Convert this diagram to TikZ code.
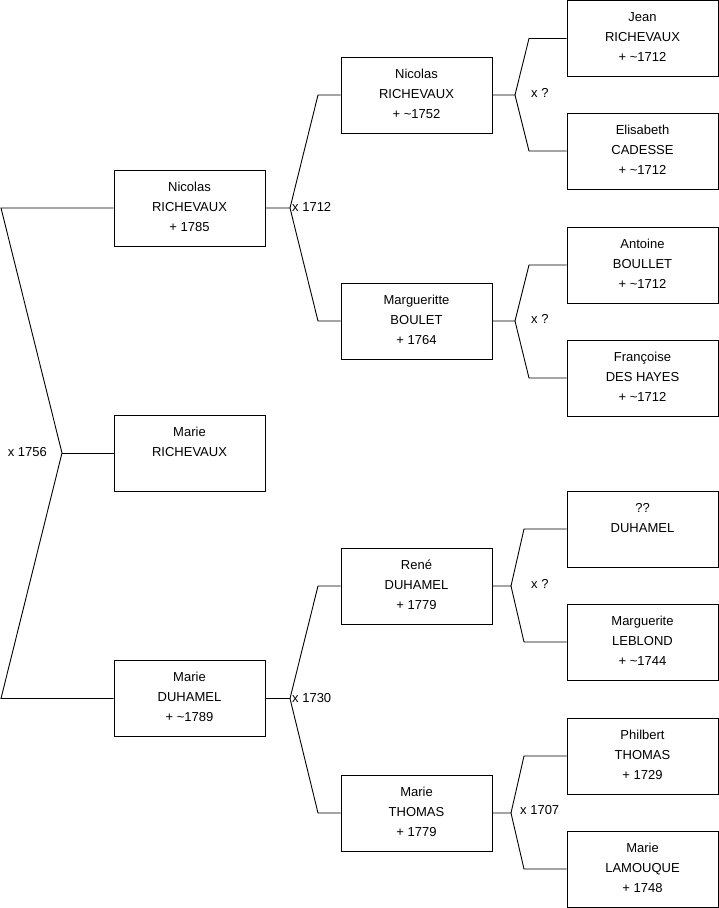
\documentclass[tikz,border=0pt]{standalone}
\usepackage{fontspec}
\setmainfont{Liberation Sans}
\begin{document}
\begin{tikzpicture}[x=1pt,y=-1pt,
  person/.style={draw=black,line width=0.9pt,rectangle,minimum width=151pt,minimum height=76pt,inner sep=0pt,align=center,font=\fontsize{13}{20}\selectfont},
  link/.style={draw=black,line width=0.9pt},
  lbl/.style={inner sep=0pt,font=\fontsize{13}{15}\selectfont}]
\useasboundingbox (0,0) rectangle (719,908);
\newcommand{\pstrut}{\rule[-7pt]{0pt}{20pt}}
\newcommand{\pp}[3]{\pstrut #1\\\pstrut #2\\\pstrut #3}
% column 1
\node[person] (a1) at (189.5,208) {\pp{Nicolas}{RICHEVAUX}{+ 1785}};
\node[person] (a2) at (189.5,453) {\pp{Marie}{RICHEVAUX}{}};
\node[person] (a3) at (189.5,698.5) {\pp{Marie}{DUHAMEL}{+ \textasciitilde 1789}};
% column 2
\node[person] (b1) at (416.5,95) {\pp{Nicolas}{RICHEVAUX}{+ \textasciitilde 1752}};
\node[person] (b2) at (416.5,321) {\pp{Margueritte}{BOULET}{+ 1764}};
\node[person] (b3) at (416.5,586) {\pp{René}{DUHAMEL}{+ 1779}};
\node[person] (b4) at (416.5,813) {\pp{Marie}{THOMAS}{+ 1779}};
% column 3
\node[person] (c1) at (642.5,38.5) {\pp{Jean}{RICHEVAUX}{+ \textasciitilde 1712}};
\node[person] (c2) at (642.5,151) {\pp{Elisabeth}{CADESSE}{+ \textasciitilde 1712}};
\node[person] (c3) at (642.5,265) {\pp{Antoine}{BOULLET}{+ \textasciitilde 1712}};
\node[person] (c4) at (642.5,378) {\pp{Françoise}{DES HAYES}{+ \textasciitilde 1712}};
\node[person] (c5) at (642.5,529) {\pp{??}{DUHAMEL}{}};
\node[person] (c6) at (642.5,642) {\pp{Marguerite}{LEBLOND}{+ \textasciitilde 1744}};
\node[person] (c7) at (642.5,756) {\pp{Philbert}{THOMAS}{+ 1729}};
\node[person] (c8) at (642.5,869) {\pp{Marie}{LAMOUQUE}{+ 1748}};
% left bracket
\coordinate (v0) at (62,453);
\coordinate (t0) at (1,208);
\coordinate (u0) at (1,698.5);
\draw[link] (a1.west) -- (t0) -- (v0) -- (u0) -- (a3.west);
\draw[link] (v0) -- (a2.west);
\node[lbl,anchor=east] (l0) at (47,452) {x 1756};
% a1 -> b1,b2
\coordinate (v1) at (290,208);
\draw[link] (a1.east) -- (v1) -- (318,95) -- (b1.west);
\draw[link] (v1) -- (318,321) -- (b2.west);
\node[lbl,anchor=west] (l1) at (292,207) {x 1712};
% a3 -> b3,b4
\coordinate (v2) at (290,698.5);
\draw[link] (a3.east) -- (v2) -- (318,586) -- (b3.west);
\draw[link] (v2) -- (318,813) -- (b4.west);
\node[lbl,anchor=west] (l2) at (292,698) {x 1730};
% b1 -> c1,c2
\coordinate (v3) at (515,95);
\draw[link] (b1.east) -- (v3) -- (529,38.5) -- (c1.west);
\draw[link] (v3) -- (529,151) -- (c2.west);
\node[lbl,anchor=west] (l3) at (531,93) {x ?};
% b2 -> c3,c4
\coordinate (v4) at (515,321);
\draw[link] (b2.east) -- (v4) -- (529,265) -- (c3.west);
\draw[link] (v4) -- (529,378) -- (c4.west);
\node[lbl,anchor=west] (l4) at (531,319) {x ?};
% b3 -> c5,c6
\coordinate (v5) at (511,586);
\draw[link] (b3.east) -- (v5) -- (524,529) -- (c5.west);
\draw[link] (v5) -- (524,642) -- (c6.west);
\node[lbl,anchor=west] (l5) at (531,584) {x ?};
% b4 -> c7,c8
\coordinate (v6) at (511,813);
\draw[link] (b4.east) -- (v6) -- (524,756) -- (c7.west);
\draw[link] (v6) -- (524,869) -- (c8.west);
\node[lbl,anchor=west] (l6) at (520,810) {x 1707};
\end{tikzpicture}
\end{document}
